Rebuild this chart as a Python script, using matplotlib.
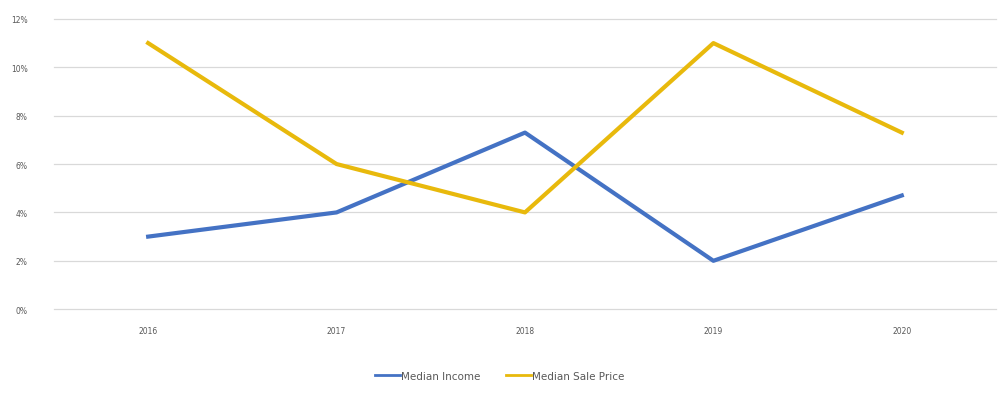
import matplotlib.pyplot as plt
from matplotlib.ticker import FuncFormatter

years = ["2016", "2017", "2018", "2019", "2020"]
median_income = [3.0, 4.0, 7.3, 2.0, 4.7]
median_sale_price = [11.0, 6.0, 4.0, 11.0, 7.3]

fig = plt.figure(figsize=(9.99, 4.06), dpi=100)
ax = fig.add_axes([0.054, 0.236, 0.943, 0.715])

x = range(len(years))
ax.plot(x, median_income, color="#4472C4", lw=3.0, label="Median Income")
ax.plot(x, median_sale_price, color="#E8B90C", lw=3.0, label="Median Sale Price")

ax.set_xlim(-0.5, len(years) - 0.5)
ax.set_ylim(0, 12)
ax.set_yticks(range(0, 13, 2))
ax.yaxis.set_major_formatter(FuncFormatter(lambda v, _: f"{v:.0f}%"))
ax.set_xticks(list(x))
ax.set_xticklabels(years)

ax.grid(axis="y", color="#d9d9d9", lw=0.9)
for gl in ax.get_ygridlines():
    gl.set_clip_on(False)
ax.set_axisbelow(True)
for s in ax.spines.values():
    s.set_visible(False)
ax.tick_params(length=0, labelsize=5.5, labelcolor="#595959")
ax.tick_params(axis="x", pad=12)
ax.tick_params(axis="y", pad=19)

leg = fig.legend(loc="center", bbox_to_anchor=(0.5, 0.072), ncol=2, frameon=False,
                 fontsize=7.5, handlelength=2.4, handletextpad=0.1, columnspacing=2.5,
                 labelcolor="#595959")
for h in leg.legend_handles:
    h.set_linewidth(2.0)

fig.savefig("out.png", dpi=100)
